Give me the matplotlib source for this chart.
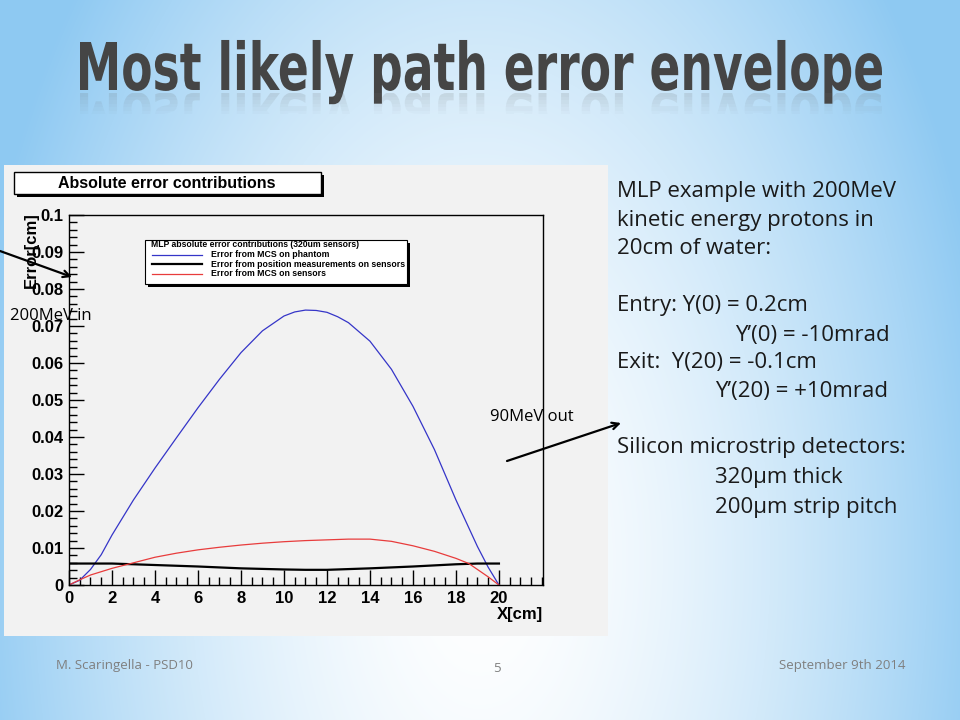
import numpy as np
import matplotlib
matplotlib.use('Agg')
import matplotlib.pyplot as plt
from matplotlib.patches import Rectangle, PathPatch, FancyArrowPatch
from matplotlib.textpath import TextPath
from matplotlib.font_manager import FontProperties
from matplotlib.path import Path
from matplotlib.ticker import MultipleLocator, FixedLocator, FuncFormatter

# values (x in cm, error in cm)
x_phantom = [0, 0.5, 1, 1.5, 2, 3, 4, 5, 6, 7, 8, 9, 10, 10.5, 11, 11.5, 12, 12.5,
             13, 14, 15, 16, 17, 18, 19, 19.5, 20]
err_phantom = [0, 0.0013, 0.0042, 0.0082, 0.0135, 0.0230, 0.0316, 0.0398, 0.0479,
               0.0556, 0.0628, 0.0687, 0.0727, 0.0738, 0.0743, 0.0742, 0.0737, 0.0725,
               0.0709, 0.0659, 0.0583, 0.0483, 0.0366, 0.0230, 0.0104, 0.0048, 0]

x_position = [0, 1, 2, 2.5, 4, 6, 8, 10, 11, 12, 14, 16, 18, 19, 20]
err_position = [0.0058, 0.0058, 0.0058, 0.0057, 0.0054, 0.0050, 0.0045, 0.0042,
                0.0041, 0.0041, 0.0045, 0.0050, 0.0056, 0.0058, 0.0058]

x_sensors = [0, 0.5, 1, 2, 3, 4, 5, 6, 7, 8, 9, 10, 11, 12, 13, 14, 15, 16, 17,
             18, 18.6, 19, 19.5, 20]
err_sensors = [0, 0.0014, 0.0027, 0.0045, 0.0060, 0.0075, 0.0086, 0.0095, 0.0102,
               0.0108, 0.0113, 0.0117, 0.0120, 0.0122, 0.0124, 0.0124, 0.0118, 0.0106,
               0.0091, 0.0072, 0.0058, 0.0042, 0.0022, 0]

legend_title = 'MLP absolute error contributions (320um sensors)'
legend_labels = ['Error from MCS on phantom',
                 'Error from position measurements on sensors',
                 'Error from MCS on sensors']
legend_colors = ['#3535c8', '#000000', '#e83c3c']

slide_title = 'Most likely path error envelope'
side_lines = ['MLP example with 200MeV', 'kinetic energy protons in', '20cm of water:',
              '', 'Entry: Y(0) = 0.2cm', '', 'Exit:  Y(20) = -0.1cm', '', '',
              'Silicon microstrip detectors:']
side_indented = [(335, 735, 'Y\u2019(0) = -10mrad'), (392, 715, 'Y\u2019(20) = +10mrad'),
                 (478, 715, '320\u03bcm thick'), (507, 715, '200\u03bcm strip pitch')]

W, H = 960, 720


def fx(px):
    return px / W


def fy(py):
    return 1 - py / H


fig = plt.figure(figsize=(9.6, 7.2), dpi=100)

# slide background gradient
bg = fig.add_axes([0, 0, 1, 1])
bg.set_zorder(-3)
yy, xx = np.mgrid[0:H, 0:W]
d = np.sqrt(((xx - 480) / 520.0) ** 2 + ((yy - 560) / 900.0) ** 2)
t = np.clip(d, 0, 1) ** 1.6
edge = np.array([0.56, 0.79, 0.95])
img = (1 - t)[..., None] * np.ones(3) + t[..., None] * edge
bg.imshow(img, aspect='auto', extent=[0, W, H, 0])
bg.axis('off')

# slide title drawn as a condensed path, plus a fading reflection
fp = FontProperties(family='DejaVu Sans', weight='bold')
tp = TextPath((0, 0), slide_title, size=1, prop=fp)
bb = tp.get_extents()
sx = 802.0 / bb.width
sy = 48.0 / 0.729
v = tp.vertices
tx = (v[:, 0] - bb.x0) * sx + 80
ty = v[:, 1] * sy + (H - 90)
fig.add_artist(PathPatch(Path(np.column_stack([tx / W, ty / H]), tp.codes),
                         transform=fig.transFigure, fc='#454545', ec='none'))
ry = (H - 93) - v[:, 1] * sy * 0.9
for k in range(6):
    top, bot = 93 + k * 3.5, 93 + (k + 1) * 3.5
    refl = PathPatch(Path(np.column_stack([tx / W, ry / H]), tp.codes),
                     transform=fig.transFigure, fc='#6a6a6a', ec='none',
                     alpha=0.16 * (1 - k / 6.0))
    fig.add_artist(refl)
    refl.set_clip_path(Rectangle((0, fy(bot)), 1, fy(top) - fy(bot),
                                 transform=fig.transFigure))

# ROOT canvas panel
panel = Rectangle((fx(4), fy(636)), fx(608) - fx(4), fy(165) - fy(636),
                  transform=fig.transFigure, fc='#f2f2f2', ec='none', zorder=-2)
fig.add_artist(panel)

# title box with shadow
fig.add_artist(Rectangle((fx(17), fy(197)), fx(321) - fx(14), fy(172) - fy(194),
                         transform=fig.transFigure, fc='black', ec='none', zorder=-1))
fig.add_artist(Rectangle((fx(14), fy(194)), fx(321) - fx(14), fy(172) - fy(194),
                         transform=fig.transFigure, fc='white', ec='black', lw=1, zorder=-1))
fig.text(fx(167), fy(183.5), 'Absolute error contributions', ha='center', va='center',
         family='Liberation Sans', weight='bold', fontsize=11.5)

# main plot
ax = fig.add_axes([fx(69), fy(585), fx(543) - fx(69), fy(215) - fy(585)])
ax.set_facecolor('none')
ax.plot(x_phantom, err_phantom, color=legend_colors[0], lw=0.9)
ax.plot(x_position, err_position, color=legend_colors[1], lw=1.6)
ax.plot(x_sensors, err_sensors, color=legend_colors[2], lw=0.9)
ax.set_xlim(0, 22.05)
ax.set_ylim(0, 0.1)
ax.xaxis.set_major_locator(FixedLocator(np.arange(0, 21, 2)))
ax.xaxis.set_minor_locator(MultipleLocator(0.5))
ax.yaxis.set_major_locator(MultipleLocator(0.01))
ax.yaxis.set_minor_locator(MultipleLocator(0.002))
ax.yaxis.set_major_formatter(FuncFormatter(lambda val, pos: '%g' % round(val, 3)))
ax.tick_params(which='major', direction='in', length=11, width=1, pad=4,
               top=False, right=False)
ax.tick_params(which='minor', direction='in', length=5.5, width=1, top=False, right=False)
for lab in ax.get_xticklabels() + ax.get_yticklabels():
    lab.set_family('Liberation Sans')
    lab.set_weight('bold')
    lab.set_fontsize(12)
for sp in ax.spines.values():
    sp.set_linewidth(1)
fig.text(fx(543), fy(615), 'X[cm]', ha='right', va='center',
         family='Liberation Sans', weight='bold', fontsize=12)
fig.text(fx(31), fy(250), 'Error[cm]', ha='center', va='center', rotation=90,
         family='Liberation Sans', weight='bold', fontsize=12)

# legend box (text clipped by its frame like in the original)
fig.add_artist(Rectangle((fx(148), fy(287)), fx(407) - fx(145), fy(240) - fy(284),
                         transform=fig.transFigure, fc='black', ec='none', zorder=1))
fig.add_artist(Rectangle((fx(145), fy(284)), fx(407) - fx(145), fy(240) - fy(284),
                         transform=fig.transFigure, fc='white', ec='black', lw=0.8,
                         zorder=1))
lax = fig.add_axes([fx(145), fy(284), fx(407) - fx(145), fy(240) - fy(284)])
lax.set_zorder(2)
lax.set_xlim(145, 407)
lax.set_ylim(284, 240)
lax.axis('off')
lax.text(151, 244.5, legend_title, ha='left', va='center', family='Liberation Sans',
         weight='bold', fontsize=6.2, clip_on=True)
for i, (lbl, col) in enumerate(zip(legend_labels, legend_colors)):
    yrow = 254.5 + i * 9.7
    lax.plot([152, 202], [yrow, yrow], color=col, lw=1.6 if col == '#000000' else 0.9)
    lax.text(211, yrow, lbl, ha='left', va='center', family='Liberation Sans',
             weight='bold', fontsize=6.3, clip_on=True)

# slide annotations over the plot
fig.text(fx(10), fy(316), '200MeV in', ha='left', va='center', family='Open Sans',
         fontsize=12, zorder=5)
fig.text(fx(490), fy(417), '90MeV out', ha='left', va='center', family='Open Sans',
         fontsize=12, zorder=5)
for (x0, y0), (x1, y1) in [((0, 251), (72, 277)), ((507, 461), (621, 423))]:
    arr = FancyArrowPatch((fx(x0), fy(y0)), (fx(x1), fy(y1)), transform=fig.transFigure,
                          arrowstyle='->', mutation_scale=12, lw=1.6, color='black',
                          shrinkA=0, shrinkB=0, zorder=5)
    fig.add_artist(arr)

# text block on the right
for i, line in enumerate(side_lines):
    if line:
        fig.text(fx(617), fy(192 + i * 28.4), line, ha='left', va='center',
                 family='Open Sans', fontsize=16, color='#1a1a1a')
for ypix, xpix, line in side_indented:
    fig.text(fx(xpix), fy(ypix), line, ha='left', va='center',
             family='Open Sans', fontsize=16, color='#1a1a1a')

# footer
foot = dict(family='Open Sans', fontsize=9.5, color='#7f7f7f', va='center')
fig.text(fx(56), fy(666), 'M. Scaringella - PSD10', ha='left', **foot)
fig.text(fx(497), fy(668), '5', ha='center', **foot)
fig.text(fx(905), fy(666), 'September 9th 2014', ha='right', **foot)

fig.savefig('out.png', dpi=100)
